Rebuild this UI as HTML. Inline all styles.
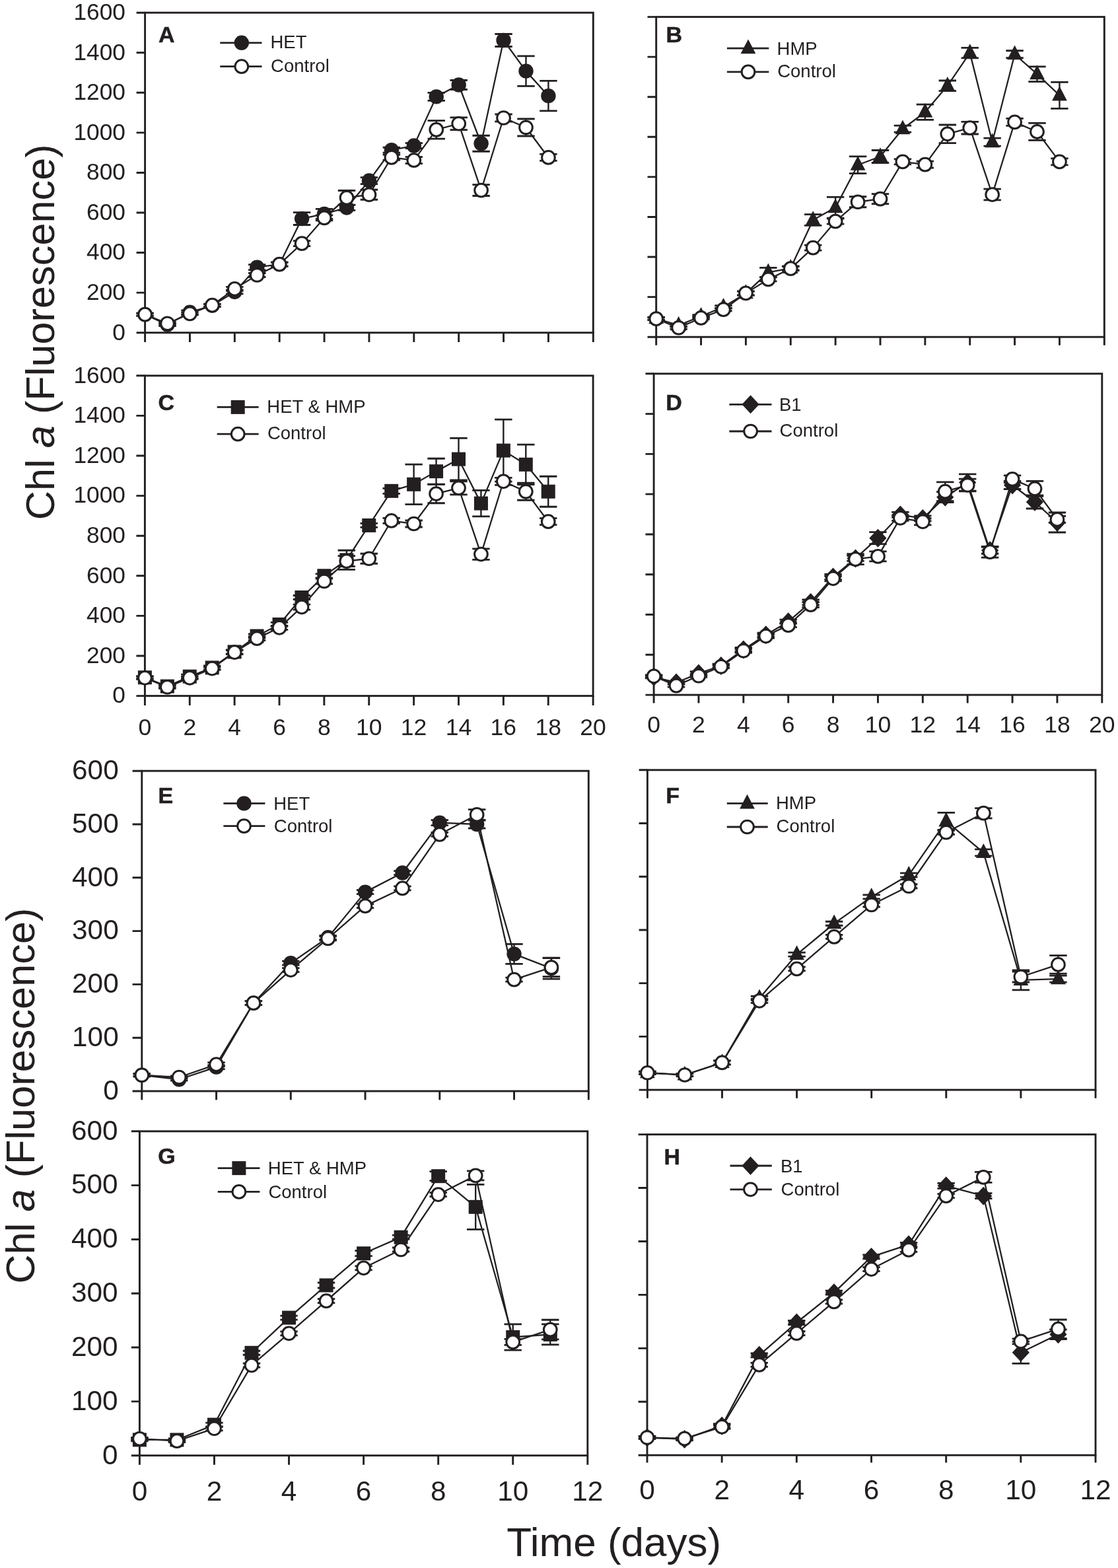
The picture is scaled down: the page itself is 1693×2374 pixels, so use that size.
<!DOCTYPE html>
<html><head><meta charset="utf-8"><title>Chl a fluorescence time course</title>
<style>html,body{margin:0;padding:0;background:#fff;}svg{display:block;}text{font-family:"Liberation Sans",Arial,sans-serif;fill:#231f20;}</style>
</head><body>
<svg width="1693" height="2374" viewBox="0 0 1693 2374">
<rect width="1693" height="2374" fill="#fff"/>
<g>
<rect x="219.6" y="19.2" width="678.7" height="484.5" fill="none" stroke="#231f20" stroke-width="2.9"/>
<path d="M206.6 503.7H219.6M206.6 443.14H219.6M206.6 382.57H219.6M206.6 322.01H219.6M206.6 261.45H219.6M206.6 200.89H219.6M206.6 140.32H219.6M206.6 79.76H219.6M206.6 19.2H219.6M219.6 503.7V518M287.47 503.7V518M355.34 503.7V518M423.21 503.7V518M491.08 503.7V518M558.95 503.7V518M626.82 503.7V518M694.69 503.7V518M762.56 503.7V518M830.43 503.7V518M898.3 503.7V518" stroke="#231f20" stroke-width="2.9" fill="none"/>
<text transform="translate(190 514.5) scale(1 1)" font-size="35.3" text-anchor="end">0</text>
<text transform="translate(190 453.94) scale(1 1)" font-size="35.3" text-anchor="end">200</text>
<text transform="translate(190 393.38) scale(1 1)" font-size="35.3" text-anchor="end">400</text>
<text transform="translate(190 332.81) scale(1 1)" font-size="35.3" text-anchor="end">600</text>
<text transform="translate(190 272.25) scale(1 1)" font-size="35.3" text-anchor="end">800</text>
<text transform="translate(190 211.69) scale(1 1)" font-size="35.3" text-anchor="end">1000</text>
<text transform="translate(190 151.12) scale(1 1)" font-size="35.3" text-anchor="end">1200</text>
<text transform="translate(190 90.56) scale(1 1)" font-size="35.3" text-anchor="end">1400</text>
<text transform="translate(190 30) scale(1 1)" font-size="35.3" text-anchor="end">1600</text>
<polyline points="219.6,476.14 253.53,491.59 287.47,472.81 321.4,462.52 355.34,441.93 389.27,404.68 423.21,400.14 457.14,331.1 491.08,323.83 525.01,314.44 558.95,273.56 592.88,227.23 626.82,220.57 660.75,146.38 694.69,128.52 728.62,217.24 762.56,60.99 796.49,107.62 830.43,145.17" fill="none" stroke="#231f20" stroke-width="2.3" stroke-linejoin="round"/>
<path d="M219.6 474.14V478.14M253.53 489.59V493.59M287.47 469.81V475.81M321.4 460.52V464.52M355.34 438.93V444.93M389.27 400.68V408.68M423.21 397.14V403.14M457.14 321.7V340.5M491.08 316.33V331.33M525.01 310.44V318.44M558.95 268.56V278.56M592.88 223.23V231.23M626.82 216.57V224.57M660.75 140.38V152.38M694.69 121.52V135.52M728.62 205.24V229.24M762.56 51.49V70.49M796.49 84.92V130.32M830.43 122.47V167.87" stroke="#231f20" stroke-width="2.4" fill="none"/>
<path d="M206.4 474.14H232.8M206.4 478.14H232.8M240.34 489.59H266.74M240.34 493.59H266.74M274.27 469.81H300.67M274.27 475.81H300.67M308.2 460.52H334.6M308.2 464.52H334.6M342.14 438.93H368.54M342.14 444.93H368.54M376.07 400.68H402.47M376.07 408.68H402.47M410.01 397.14H436.41M410.01 403.14H436.41M443.94 321.7H470.34M443.94 340.5H470.34M477.88 316.33H504.28M477.88 331.33H504.28M511.81 310.44H538.22M511.81 318.44H538.22M545.75 268.56H572.15M545.75 278.56H572.15M579.68 223.23H606.09M579.68 231.23H606.09M613.62 216.57H640.02M613.62 224.57H640.02M647.55 140.38H673.95M647.55 152.38H673.95M681.49 121.52H707.89M681.49 135.52H707.89M715.42 205.24H741.82M715.42 229.24H741.82M749.36 51.49H775.76M749.36 70.49H775.76M783.29 84.92H809.69M783.29 130.32H809.69M817.23 122.47H843.63M817.23 167.87H843.63" stroke="#231f20" stroke-width="2.8" fill="none"/>
<circle cx="219.6" cy="476.14" r="11.2" fill="#231f20"/>
<circle cx="253.53" cy="491.59" r="11.2" fill="#231f20"/>
<circle cx="287.47" cy="472.81" r="11.2" fill="#231f20"/>
<circle cx="321.4" cy="462.52" r="11.2" fill="#231f20"/>
<circle cx="355.34" cy="441.93" r="11.2" fill="#231f20"/>
<circle cx="389.27" cy="404.68" r="11.2" fill="#231f20"/>
<circle cx="423.21" cy="400.14" r="11.2" fill="#231f20"/>
<circle cx="457.14" cy="331.1" r="11.2" fill="#231f20"/>
<circle cx="491.08" cy="323.83" r="11.2" fill="#231f20"/>
<circle cx="525.01" cy="314.44" r="11.2" fill="#231f20"/>
<circle cx="558.95" cy="273.56" r="11.2" fill="#231f20"/>
<circle cx="592.88" cy="227.23" r="11.2" fill="#231f20"/>
<circle cx="626.82" cy="220.57" r="11.2" fill="#231f20"/>
<circle cx="660.75" cy="146.38" r="11.2" fill="#231f20"/>
<circle cx="694.69" cy="128.52" r="11.2" fill="#231f20"/>
<circle cx="728.62" cy="217.24" r="11.2" fill="#231f20"/>
<circle cx="762.56" cy="60.99" r="11.2" fill="#231f20"/>
<circle cx="796.49" cy="107.62" r="11.2" fill="#231f20"/>
<circle cx="830.43" cy="145.17" r="11.2" fill="#231f20"/>
<polyline points="219.6,476.14 253.53,489.77 287.47,474.93 321.4,462.21 355.34,437.38 389.27,416.49 423.21,400.14 457.14,368.65 491.08,329.89 525.01,299.3 558.95,294.76 592.88,238.44 626.82,242.68 660.75,196.35 694.69,187.26 728.62,288.1 762.56,178.48 796.49,193.01 830.43,238.44" fill="none" stroke="#231f20" stroke-width="2.3" stroke-linejoin="round"/>
<path d="M219.6 474.14V478.14M253.53 487.77V491.77M287.47 472.93V476.93M321.4 460.21V464.21M355.34 434.38V440.38M389.27 413.49V419.49M423.21 397.14V403.14M457.14 364.65V372.65M491.08 325.89V333.89M525.01 288.5V310.1M558.95 287.26V302.26M592.88 234.44V242.44M626.82 237.68V247.68M660.75 182.55V210.15M694.69 177.96V196.56M728.62 279.7V296.5M762.56 172.98V183.98M796.49 180.01V206.01M830.43 233.44V243.44" stroke="#231f20" stroke-width="2.4" fill="none"/>
<path d="M206.4 474.14H232.8M206.4 478.14H232.8M240.34 487.77H266.74M240.34 491.77H266.74M274.27 472.93H300.67M274.27 476.93H300.67M308.2 460.21H334.6M308.2 464.21H334.6M342.14 434.38H368.54M342.14 440.38H368.54M376.07 413.49H402.47M376.07 419.49H402.47M410.01 397.14H436.41M410.01 403.14H436.41M443.94 364.65H470.34M443.94 372.65H470.34M477.88 325.89H504.28M477.88 333.89H504.28M511.81 288.5H538.22M511.81 310.1H538.22M545.75 287.26H572.15M545.75 302.26H572.15M579.68 234.44H606.09M579.68 242.44H606.09M613.62 237.68H640.02M613.62 247.68H640.02M647.55 182.55H673.95M647.55 210.15H673.95M681.49 177.96H707.89M681.49 196.56H707.89M715.42 279.7H741.82M715.42 296.5H741.82M749.36 172.98H775.76M749.36 183.98H775.76M783.29 180.01H809.69M783.29 206.01H809.69M817.23 233.44H843.63M817.23 243.44H843.63" stroke="#231f20" stroke-width="2.8" fill="none"/>
<circle cx="219.6" cy="476.14" r="9.85" fill="#fff" stroke="#231f20" stroke-width="3.0"/>
<circle cx="253.53" cy="489.77" r="9.85" fill="#fff" stroke="#231f20" stroke-width="3.0"/>
<circle cx="287.47" cy="474.93" r="9.85" fill="#fff" stroke="#231f20" stroke-width="3.0"/>
<circle cx="321.4" cy="462.21" r="9.85" fill="#fff" stroke="#231f20" stroke-width="3.0"/>
<circle cx="355.34" cy="437.38" r="9.85" fill="#fff" stroke="#231f20" stroke-width="3.0"/>
<circle cx="389.27" cy="416.49" r="9.85" fill="#fff" stroke="#231f20" stroke-width="3.0"/>
<circle cx="423.21" cy="400.14" r="9.85" fill="#fff" stroke="#231f20" stroke-width="3.0"/>
<circle cx="457.14" cy="368.65" r="9.85" fill="#fff" stroke="#231f20" stroke-width="3.0"/>
<circle cx="491.08" cy="329.89" r="9.85" fill="#fff" stroke="#231f20" stroke-width="3.0"/>
<circle cx="525.01" cy="299.3" r="9.85" fill="#fff" stroke="#231f20" stroke-width="3.0"/>
<circle cx="558.95" cy="294.76" r="9.85" fill="#fff" stroke="#231f20" stroke-width="3.0"/>
<circle cx="592.88" cy="238.44" r="9.85" fill="#fff" stroke="#231f20" stroke-width="3.0"/>
<circle cx="626.82" cy="242.68" r="9.85" fill="#fff" stroke="#231f20" stroke-width="3.0"/>
<circle cx="660.75" cy="196.35" r="9.85" fill="#fff" stroke="#231f20" stroke-width="3.0"/>
<circle cx="694.69" cy="187.26" r="9.85" fill="#fff" stroke="#231f20" stroke-width="3.0"/>
<circle cx="728.62" cy="288.1" r="9.85" fill="#fff" stroke="#231f20" stroke-width="3.0"/>
<circle cx="762.56" cy="178.48" r="9.85" fill="#fff" stroke="#231f20" stroke-width="3.0"/>
<circle cx="796.49" cy="193.01" r="9.85" fill="#fff" stroke="#231f20" stroke-width="3.0"/>
<circle cx="830.43" cy="238.44" r="9.85" fill="#fff" stroke="#231f20" stroke-width="3.0"/>
<path d="M333.3 64.8H396.5M333.3 100.7H396.5" stroke="#231f20" stroke-width="2.8" fill="none"/>
<circle cx="365.8" cy="64.8" r="11.2" fill="#231f20"/>
<circle cx="365.8" cy="100.7" r="9.85" fill="#fff" stroke="#231f20" stroke-width="3.0"/>
<text x="409.5" y="73.3" font-size="27.5">HET</text>
<text x="410.1" y="108.7" font-size="27.5">Control</text>
<text x="239.9" y="63.9" font-size="34" font-weight="bold" stroke="#231f20" stroke-width="0.5">A</text>
</g>
<g>
<rect x="993.7" y="25.6" width="678.6" height="484.6" fill="none" stroke="#231f20" stroke-width="2.9"/>
<path d="M980.5 510.2H993.7M980.5 449.62H993.7M980.5 389.05H993.7M980.5 328.48H993.7M980.5 267.9H993.7M980.5 207.32H993.7M980.5 146.75H993.7M980.5 86.17H993.7M980.5 25.6H993.7M993.7 510.2V522.7M1061.56 510.2V522.7M1129.42 510.2V522.7M1197.28 510.2V522.7M1265.14 510.2V522.7M1333 510.2V522.7M1400.86 510.2V522.7M1468.72 510.2V522.7M1536.58 510.2V522.7M1604.44 510.2V522.7M1672.3 510.2V522.7" stroke="#231f20" stroke-width="2.9" fill="none"/>
<polyline points="993.7,482.03 1027.63,492.63 1061.56,478.7 1095.49,464.77 1129.42,444.17 1163.35,412.37 1197.28,406.01 1231.21,333.02 1265.14,314.24 1299.07,249.73 1333,237.01 1366.93,195.21 1400.86,169.77 1434.79,129.79 1468.72,80.12 1502.65,215.2 1536.58,82.24 1570.51,112.22 1604.44,144.33" fill="none" stroke="#231f20" stroke-width="2.3" stroke-linejoin="round"/>
<path d="M993.7 480.03V484.03M1027.63 490.63V494.63M1061.56 476.7V480.7M1095.49 462.77V466.77M1129.42 441.17V447.17M1163.35 405.37V419.37M1197.28 403.01V409.01M1231.21 324.62V341.42M1265.14 298.44V330.04M1299.07 236.83V262.63M1333 227.51V246.51M1366.93 190.21V200.21M1400.86 158.17V181.37M1434.79 121.99V137.59M1468.72 72.32V87.92M1502.65 209.2V221.2M1536.58 76.74V87.74M1570.51 100.82V123.62M1604.44 124.33V164.33" stroke="#231f20" stroke-width="2.4" fill="none"/>
<path d="M980.5 480.03H1006.9M980.5 484.03H1006.9M1014.43 490.63H1040.83M1014.43 494.63H1040.83M1048.36 476.7H1074.76M1048.36 480.7H1074.76M1082.29 462.77H1108.69M1082.29 466.77H1108.69M1116.22 441.17H1142.62M1116.22 447.17H1142.62M1150.15 405.37H1176.55M1150.15 419.37H1176.55M1184.08 403.01H1210.48M1184.08 409.01H1210.48M1218.01 324.62H1244.41M1218.01 341.42H1244.41M1251.94 298.44H1278.34M1251.94 330.04H1278.34M1285.87 236.83H1312.27M1285.87 262.63H1312.27M1319.8 227.51H1346.2M1319.8 246.51H1346.2M1353.73 190.21H1380.13M1353.73 200.21H1380.13M1387.66 158.17H1414.06M1387.66 181.37H1414.06M1421.59 121.99H1447.99M1421.59 137.59H1447.99M1455.52 72.32H1481.92M1455.52 87.92H1481.92M1489.45 209.2H1515.85M1489.45 221.2H1515.85M1523.38 76.74H1549.78M1523.38 87.74H1549.78M1557.31 100.82H1583.71M1557.31 123.62H1583.71M1591.24 124.33H1617.64M1591.24 164.33H1617.64" stroke="#231f20" stroke-width="2.8" fill="none"/>
<polygon points="993.7,468.23 1005.1,490.13 982.3,490.13" fill="#231f20"/>
<polygon points="1027.63,478.83 1039.03,500.73 1016.23,500.73" fill="#231f20"/>
<polygon points="1061.56,464.9 1072.96,486.8 1050.16,486.8" fill="#231f20"/>
<polygon points="1095.49,450.97 1106.89,472.87 1084.09,472.87" fill="#231f20"/>
<polygon points="1129.42,430.37 1140.82,452.27 1118.02,452.27" fill="#231f20"/>
<polygon points="1163.35,398.57 1174.75,420.47 1151.95,420.47" fill="#231f20"/>
<polygon points="1197.28,392.21 1208.68,414.11 1185.88,414.11" fill="#231f20"/>
<polygon points="1231.21,319.22 1242.61,341.12 1219.81,341.12" fill="#231f20"/>
<polygon points="1265.14,300.44 1276.54,322.34 1253.74,322.34" fill="#231f20"/>
<polygon points="1299.07,235.93 1310.47,257.83 1287.67,257.83" fill="#231f20"/>
<polygon points="1333,223.21 1344.4,245.11 1321.6,245.11" fill="#231f20"/>
<polygon points="1366.93,181.41 1378.33,203.31 1355.53,203.31" fill="#231f20"/>
<polygon points="1400.86,155.97 1412.26,177.87 1389.46,177.87" fill="#231f20"/>
<polygon points="1434.79,115.99 1446.19,137.89 1423.39,137.89" fill="#231f20"/>
<polygon points="1468.72,66.32 1480.12,88.22 1457.32,88.22" fill="#231f20"/>
<polygon points="1502.65,201.4 1514.05,223.3 1491.25,223.3" fill="#231f20"/>
<polygon points="1536.58,68.44 1547.98,90.34 1525.18,90.34" fill="#231f20"/>
<polygon points="1570.51,98.42 1581.91,120.32 1559.11,120.32" fill="#231f20"/>
<polygon points="1604.44,130.53 1615.84,152.43 1593.04,152.43" fill="#231f20"/>
<polyline points="993.7,482.64 1027.63,496.27 1061.56,481.43 1095.49,468.71 1129.42,443.87 1163.35,422.97 1197.28,406.62 1231.21,375.12 1265.14,335.14 1299.07,305.76 1333,301.22 1366.93,244.88 1400.86,249.12 1434.79,202.78 1468.72,193.7 1502.65,294.55 1536.58,184.91 1570.51,199.45 1604.44,244.88" fill="none" stroke="#231f20" stroke-width="2.3" stroke-linejoin="round"/>
<path d="M993.7 480.64V484.64M1027.63 494.27V498.27M1061.56 479.43V483.43M1095.49 466.71V470.71M1129.42 440.87V446.87M1163.35 419.97V425.97M1197.28 403.62V409.62M1231.21 371.12V379.12M1265.14 331.14V339.14M1299.07 297.76V313.76M1333 293.72V308.72M1366.93 240.88V248.88M1400.86 244.12V254.12M1434.79 188.98V216.58M1468.72 184.4V203M1502.65 286.15V302.95M1536.58 179.41V190.41M1570.51 186.45V212.45M1604.44 239.88V249.88" stroke="#231f20" stroke-width="2.4" fill="none"/>
<path d="M980.5 480.64H1006.9M980.5 484.64H1006.9M1014.43 494.27H1040.83M1014.43 498.27H1040.83M1048.36 479.43H1074.76M1048.36 483.43H1074.76M1082.29 466.71H1108.69M1082.29 470.71H1108.69M1116.22 440.87H1142.62M1116.22 446.87H1142.62M1150.15 419.97H1176.55M1150.15 425.97H1176.55M1184.08 403.62H1210.48M1184.08 409.62H1210.48M1218.01 371.12H1244.41M1218.01 379.12H1244.41M1251.94 331.14H1278.34M1251.94 339.14H1278.34M1285.87 297.76H1312.27M1285.87 313.76H1312.27M1319.8 293.72H1346.2M1319.8 308.72H1346.2M1353.73 240.88H1380.13M1353.73 248.88H1380.13M1387.66 244.12H1414.06M1387.66 254.12H1414.06M1421.59 188.98H1447.99M1421.59 216.58H1447.99M1455.52 184.4H1481.92M1455.52 203H1481.92M1489.45 286.15H1515.85M1489.45 302.95H1515.85M1523.38 179.41H1549.78M1523.38 190.41H1549.78M1557.31 186.45H1583.71M1557.31 212.45H1583.71M1591.24 239.88H1617.64M1591.24 249.88H1617.64" stroke="#231f20" stroke-width="2.8" fill="none"/>
<circle cx="993.7" cy="482.64" r="9.85" fill="#fff" stroke="#231f20" stroke-width="3.0"/>
<circle cx="1027.63" cy="496.27" r="9.85" fill="#fff" stroke="#231f20" stroke-width="3.0"/>
<circle cx="1061.56" cy="481.43" r="9.85" fill="#fff" stroke="#231f20" stroke-width="3.0"/>
<circle cx="1095.49" cy="468.71" r="9.85" fill="#fff" stroke="#231f20" stroke-width="3.0"/>
<circle cx="1129.42" cy="443.87" r="9.85" fill="#fff" stroke="#231f20" stroke-width="3.0"/>
<circle cx="1163.35" cy="422.97" r="9.85" fill="#fff" stroke="#231f20" stroke-width="3.0"/>
<circle cx="1197.28" cy="406.62" r="9.85" fill="#fff" stroke="#231f20" stroke-width="3.0"/>
<circle cx="1231.21" cy="375.12" r="9.85" fill="#fff" stroke="#231f20" stroke-width="3.0"/>
<circle cx="1265.14" cy="335.14" r="9.85" fill="#fff" stroke="#231f20" stroke-width="3.0"/>
<circle cx="1299.07" cy="305.76" r="9.85" fill="#fff" stroke="#231f20" stroke-width="3.0"/>
<circle cx="1333" cy="301.22" r="9.85" fill="#fff" stroke="#231f20" stroke-width="3.0"/>
<circle cx="1366.93" cy="244.88" r="9.85" fill="#fff" stroke="#231f20" stroke-width="3.0"/>
<circle cx="1400.86" cy="249.12" r="9.85" fill="#fff" stroke="#231f20" stroke-width="3.0"/>
<circle cx="1434.79" cy="202.78" r="9.85" fill="#fff" stroke="#231f20" stroke-width="3.0"/>
<circle cx="1468.72" cy="193.7" r="9.85" fill="#fff" stroke="#231f20" stroke-width="3.0"/>
<circle cx="1502.65" cy="294.55" r="9.85" fill="#fff" stroke="#231f20" stroke-width="3.0"/>
<circle cx="1536.58" cy="184.91" r="9.85" fill="#fff" stroke="#231f20" stroke-width="3.0"/>
<circle cx="1570.51" cy="199.45" r="9.85" fill="#fff" stroke="#231f20" stroke-width="3.0"/>
<circle cx="1604.44" cy="244.88" r="9.85" fill="#fff" stroke="#231f20" stroke-width="3.0"/>
<path d="M1100.9 73.2H1164.3M1100.9 108.9H1164.3" stroke="#231f20" stroke-width="2.8" fill="none"/>
<polygon points="1133,59.4 1144.4,81.3 1121.6,81.3" fill="#231f20"/>
<circle cx="1133" cy="108.9" r="9.85" fill="#fff" stroke="#231f20" stroke-width="3.0"/>
<text x="1176.6" y="82.7" font-size="27.5">HMP</text>
<text x="1177.2" y="117.1" font-size="27.5">Control</text>
<text x="1008.5" y="63.6" font-size="34" font-weight="bold" stroke="#231f20" stroke-width="0.5">B</text>
</g>
<g>
<rect x="219.4" y="568.8" width="678.7" height="484.8" fill="none" stroke="#231f20" stroke-width="2.9"/>
<path d="M206.4 1053.6H219.4M206.4 993H219.4M206.4 932.4H219.4M206.4 871.8H219.4M206.4 811.2H219.4M206.4 750.6H219.4M206.4 690H219.4M206.4 629.4H219.4M206.4 568.8H219.4M219.4 1053.6V1068M287.27 1053.6V1068M355.14 1053.6V1068M423.01 1053.6V1068M490.88 1053.6V1068M558.75 1053.6V1068M626.62 1053.6V1068M694.49 1053.6V1068M762.36 1053.6V1068M830.23 1053.6V1068M898.1 1053.6V1068" stroke="#231f20" stroke-width="2.9" fill="none"/>
<text transform="translate(190 1064.4) scale(1 1)" font-size="35.3" text-anchor="end">0</text>
<text transform="translate(190 1003.8) scale(1 1)" font-size="35.3" text-anchor="end">200</text>
<text transform="translate(190 943.2) scale(1 1)" font-size="35.3" text-anchor="end">400</text>
<text transform="translate(190 882.6) scale(1 1)" font-size="35.3" text-anchor="end">600</text>
<text transform="translate(190 822) scale(1 1)" font-size="35.3" text-anchor="end">800</text>
<text transform="translate(190 761.4) scale(1 1)" font-size="35.3" text-anchor="end">1000</text>
<text transform="translate(190 700.8) scale(1 1)" font-size="35.3" text-anchor="end">1200</text>
<text transform="translate(190 640.2) scale(1 1)" font-size="35.3" text-anchor="end">1400</text>
<text transform="translate(190 579.6) scale(1 1)" font-size="35.3" text-anchor="end">1600</text>
<text transform="translate(219.4 1112.5) scale(1 1)" font-size="35.5" text-anchor="middle">0</text>
<text transform="translate(287.27 1112.5) scale(1 1)" font-size="35.5" text-anchor="middle">2</text>
<text transform="translate(355.14 1112.5) scale(1 1)" font-size="35.5" text-anchor="middle">4</text>
<text transform="translate(423.01 1112.5) scale(1 1)" font-size="35.5" text-anchor="middle">6</text>
<text transform="translate(490.88 1112.5) scale(1 1)" font-size="35.5" text-anchor="middle">8</text>
<text transform="translate(558.75 1112.5) scale(1 1)" font-size="35.5" text-anchor="middle">10</text>
<text transform="translate(626.62 1112.5) scale(1 1)" font-size="35.5" text-anchor="middle">12</text>
<text transform="translate(694.49 1112.5) scale(1 1)" font-size="35.5" text-anchor="middle">14</text>
<text transform="translate(762.36 1112.5) scale(1 1)" font-size="35.5" text-anchor="middle">16</text>
<text transform="translate(830.23 1112.5) scale(1 1)" font-size="35.5" text-anchor="middle">18</text>
<text transform="translate(898.1 1112.5) scale(1 1)" font-size="35.5" text-anchor="middle">20</text>
<polyline points="219.4,1025.72 253.34,1039.06 287.27,1024.21 321.21,1010.88 355.14,986.94 389.08,963 423.01,945.43 456.95,904.52 490.88,871.8 524.82,847.86 558.75,795.44 592.69,743.33 626.62,733.33 660.56,713.63 694.49,695.15 728.43,762.11 762.36,682.12 796.29,703.33 830.23,744.24" fill="none" stroke="#231f20" stroke-width="2.3" stroke-linejoin="round"/>
<path d="M219.4 1023.72V1027.72M253.34 1037.06V1041.06M287.27 1021.21V1027.21M321.21 1007.88V1013.88M355.14 983.94V989.94M389.08 960V966M423.01 942.43V948.43M456.95 901.52V907.52M490.88 868.8V874.8M524.82 833.26V862.46M558.75 792.44V798.44M592.69 739.33V747.33M626.62 703.13V763.53M660.56 694.23V733.03M694.49 663.45V726.85M728.43 742.41V781.81M762.36 635.12V729.12M796.29 673.03V733.63M830.23 721.24V767.24" stroke="#231f20" stroke-width="2.4" fill="none"/>
<path d="M206.2 1023.72H232.6M206.2 1027.72H232.6M240.14 1037.06H266.54M240.14 1041.06H266.54M274.07 1021.21H300.47M274.07 1027.21H300.47M308.01 1007.88H334.41M308.01 1013.88H334.41M341.94 983.94H368.34M341.94 989.94H368.34M375.88 960H402.28M375.88 966H402.28M409.81 942.43H436.21M409.81 948.43H436.21M443.75 901.52H470.15M443.75 907.52H470.15M477.68 868.8H504.08M477.68 874.8H504.08M511.62 833.26H538.02M511.62 862.46H538.02M545.55 792.44H571.95M545.55 798.44H571.95M579.49 739.33H605.89M579.49 747.33H605.89M613.42 703.13H639.82M613.42 763.53H639.82M647.36 694.23H673.76M647.36 733.03H673.76M681.29 663.45H707.69M681.29 726.85H707.69M715.23 742.41H741.63M715.23 781.81H741.63M749.16 635.12H775.56M749.16 729.12H775.56M783.09 673.03H809.5M783.09 733.63H809.5M817.03 721.24H843.43M817.03 767.24H843.43" stroke="#231f20" stroke-width="2.8" fill="none"/>
<rect x="208.9" y="1015.22" width="21" height="21" fill="#231f20"/>
<rect x="242.84" y="1028.56" width="21" height="21" fill="#231f20"/>
<rect x="276.77" y="1013.71" width="21" height="21" fill="#231f20"/>
<rect x="310.71" y="1000.38" width="21" height="21" fill="#231f20"/>
<rect x="344.64" y="976.44" width="21" height="21" fill="#231f20"/>
<rect x="378.58" y="952.5" width="21" height="21" fill="#231f20"/>
<rect x="412.51" y="934.93" width="21" height="21" fill="#231f20"/>
<rect x="446.45" y="894.02" width="21" height="21" fill="#231f20"/>
<rect x="480.38" y="861.3" width="21" height="21" fill="#231f20"/>
<rect x="514.32" y="837.36" width="21" height="21" fill="#231f20"/>
<rect x="548.25" y="784.94" width="21" height="21" fill="#231f20"/>
<rect x="582.19" y="732.83" width="21" height="21" fill="#231f20"/>
<rect x="616.12" y="722.83" width="21" height="21" fill="#231f20"/>
<rect x="650.06" y="703.13" width="21" height="21" fill="#231f20"/>
<rect x="683.99" y="684.65" width="21" height="21" fill="#231f20"/>
<rect x="717.93" y="751.61" width="21" height="21" fill="#231f20"/>
<rect x="751.86" y="671.62" width="21" height="21" fill="#231f20"/>
<rect x="785.79" y="692.83" width="21" height="21" fill="#231f20"/>
<rect x="819.73" y="733.74" width="21" height="21" fill="#231f20"/>
<polyline points="219.4,1026.33 253.34,1040.27 287.27,1026.33 321.21,1012.09 355.14,987.55 389.08,966.64 423.01,950.28 456.95,919.07 490.88,879.98 524.82,849.68 558.75,845.74 592.69,788.47 626.62,793.02 660.56,747.57 694.49,738.78 728.43,839.08 762.36,728.78 796.29,744.24 830.23,789.69" fill="none" stroke="#231f20" stroke-width="2.3" stroke-linejoin="round"/>
<path d="M219.4 1024.33V1028.33M253.34 1038.27V1042.27M287.27 1024.33V1028.33M321.21 1010.09V1014.09M355.14 984.55V990.55M389.08 963.64V969.64M423.01 947.28V953.28M456.95 915.07V923.07M490.88 875.98V883.98M524.82 841.68V857.68M558.75 838.24V853.24M592.69 784.47V792.47M626.62 788.02V798.02M660.56 733.37V761.77M694.49 728.78V748.78M728.43 830.78V847.38M762.36 723.28V734.28M796.29 731.24V757.24M830.23 784.69V794.69" stroke="#231f20" stroke-width="2.4" fill="none"/>
<path d="M206.2 1024.33H232.6M206.2 1028.33H232.6M240.14 1038.27H266.54M240.14 1042.27H266.54M274.07 1024.33H300.47M274.07 1028.33H300.47M308.01 1010.09H334.41M308.01 1014.09H334.41M341.94 984.55H368.34M341.94 990.55H368.34M375.88 963.64H402.28M375.88 969.64H402.28M409.81 947.28H436.21M409.81 953.28H436.21M443.75 915.07H470.15M443.75 923.07H470.15M477.68 875.98H504.08M477.68 883.98H504.08M511.62 841.68H538.02M511.62 857.68H538.02M545.55 838.24H571.95M545.55 853.24H571.95M579.49 784.47H605.89M579.49 792.47H605.89M613.42 788.02H639.82M613.42 798.02H639.82M647.36 733.37H673.76M647.36 761.77H673.76M681.29 728.78H707.69M681.29 748.78H707.69M715.23 830.78H741.63M715.23 847.38H741.63M749.16 723.28H775.56M749.16 734.28H775.56M783.09 731.24H809.5M783.09 757.24H809.5M817.03 784.69H843.43M817.03 794.69H843.43" stroke="#231f20" stroke-width="2.8" fill="none"/>
<circle cx="219.4" cy="1026.33" r="9.85" fill="#fff" stroke="#231f20" stroke-width="3.0"/>
<circle cx="253.34" cy="1040.27" r="9.85" fill="#fff" stroke="#231f20" stroke-width="3.0"/>
<circle cx="287.27" cy="1026.33" r="9.85" fill="#fff" stroke="#231f20" stroke-width="3.0"/>
<circle cx="321.21" cy="1012.09" r="9.85" fill="#fff" stroke="#231f20" stroke-width="3.0"/>
<circle cx="355.14" cy="987.55" r="9.85" fill="#fff" stroke="#231f20" stroke-width="3.0"/>
<circle cx="389.08" cy="966.64" r="9.85" fill="#fff" stroke="#231f20" stroke-width="3.0"/>
<circle cx="423.01" cy="950.28" r="9.85" fill="#fff" stroke="#231f20" stroke-width="3.0"/>
<circle cx="456.95" cy="919.07" r="9.85" fill="#fff" stroke="#231f20" stroke-width="3.0"/>
<circle cx="490.88" cy="879.98" r="9.85" fill="#fff" stroke="#231f20" stroke-width="3.0"/>
<circle cx="524.82" cy="849.68" r="9.85" fill="#fff" stroke="#231f20" stroke-width="3.0"/>
<circle cx="558.75" cy="845.74" r="9.85" fill="#fff" stroke="#231f20" stroke-width="3.0"/>
<circle cx="592.69" cy="788.47" r="9.85" fill="#fff" stroke="#231f20" stroke-width="3.0"/>
<circle cx="626.62" cy="793.02" r="9.85" fill="#fff" stroke="#231f20" stroke-width="3.0"/>
<circle cx="660.56" cy="747.57" r="9.85" fill="#fff" stroke="#231f20" stroke-width="3.0"/>
<circle cx="694.49" cy="738.78" r="9.85" fill="#fff" stroke="#231f20" stroke-width="3.0"/>
<circle cx="728.43" cy="839.08" r="9.85" fill="#fff" stroke="#231f20" stroke-width="3.0"/>
<circle cx="762.36" cy="728.78" r="9.85" fill="#fff" stroke="#231f20" stroke-width="3.0"/>
<circle cx="796.29" cy="744.24" r="9.85" fill="#fff" stroke="#231f20" stroke-width="3.0"/>
<circle cx="830.23" cy="789.69" r="9.85" fill="#fff" stroke="#231f20" stroke-width="3.0"/>
<path d="M328.7 616.4H391.6M328.7 657.2H391.6" stroke="#231f20" stroke-width="2.8" fill="none"/>
<rect x="349.7" y="605.9" width="21" height="21" fill="#231f20"/>
<circle cx="360.2" cy="657.2" r="9.85" fill="#fff" stroke="#231f20" stroke-width="3.0"/>
<text x="404.3" y="625.3" font-size="27.5">HET &amp; HMP</text>
<text x="404.9" y="665.1" font-size="27.5">Control</text>
<text x="239.6" y="620.8" font-size="34" font-weight="bold" stroke="#231f20" stroke-width="0.5">C</text>
</g>
<g>
<rect x="990.1" y="565.8" width="678.7" height="486.3" fill="none" stroke="#231f20" stroke-width="2.9"/>
<path d="M977.5 1052.1H990.1M977.5 991.31H990.1M977.5 930.52H990.1M977.5 869.74H990.1M977.5 808.95H990.1M977.5 748.16H990.1M977.5 687.38H990.1M977.5 626.59H990.1M977.5 565.8H990.1M990.1 1052.1V1064.5M1057.97 1052.1V1064.5M1125.84 1052.1V1064.5M1193.71 1052.1V1064.5M1261.58 1052.1V1064.5M1329.45 1052.1V1064.5M1397.32 1052.1V1064.5M1465.19 1052.1V1064.5M1533.06 1052.1V1064.5M1600.93 1052.1V1064.5M1668.8 1052.1V1064.5" stroke="#231f20" stroke-width="2.9" fill="none"/>
<text transform="translate(990.1 1109) scale(1 1)" font-size="35.5" text-anchor="middle">0</text>
<text transform="translate(1057.97 1109) scale(1 1)" font-size="35.5" text-anchor="middle">2</text>
<text transform="translate(1125.84 1109) scale(1 1)" font-size="35.5" text-anchor="middle">4</text>
<text transform="translate(1193.71 1109) scale(1 1)" font-size="35.5" text-anchor="middle">6</text>
<text transform="translate(1261.58 1109) scale(1 1)" font-size="35.5" text-anchor="middle">8</text>
<text transform="translate(1329.45 1109) scale(1 1)" font-size="35.5" text-anchor="middle">10</text>
<text transform="translate(1397.32 1109) scale(1 1)" font-size="35.5" text-anchor="middle">12</text>
<text transform="translate(1465.19 1109) scale(1 1)" font-size="35.5" text-anchor="middle">14</text>
<text transform="translate(1533.06 1109) scale(1 1)" font-size="35.5" text-anchor="middle">16</text>
<text transform="translate(1600.93 1109) scale(1 1)" font-size="35.5" text-anchor="middle">18</text>
<text transform="translate(1668.8 1109) scale(1 1)" font-size="35.5" text-anchor="middle">20</text>
<polyline points="990.1,1024.75 1024.04,1033.56 1057.97,1019.58 1091.9,1008.03 1125.84,983.41 1159.78,961.22 1193.71,941.16 1227.64,911.98 1261.58,873.38 1295.51,845.42 1329.45,814.72 1363.38,779.47 1397.32,784.94 1431.25,752.72 1465.19,730.53 1499.12,833.26 1533.06,734.49 1566.99,760.02 1600.93,791.02" fill="none" stroke="#231f20" stroke-width="2.3" stroke-linejoin="round"/>
<path d="M990.1 1022.75V1026.75M1024.04 1031.56V1035.56M1057.97 1016.58V1022.58M1091.9 1005.03V1011.03M1125.84 980.41V986.41M1159.78 958.22V964.22M1193.71 938.16V944.16M1227.64 907.98V915.98M1261.58 869.38V877.38M1295.51 841.42V849.42M1329.45 805.72V823.72M1363.38 775.47V783.47M1397.32 780.94V788.94M1431.25 744.72V760.72M1465.19 717.83V743.23M1499.12 828.26V838.26M1533.06 728.49V740.49M1566.99 750.02V770.02M1600.93 776.02V806.02" stroke="#231f20" stroke-width="2.4" fill="none"/>
<path d="M976.9 1022.75H1003.3M976.9 1026.75H1003.3M1010.84 1031.56H1037.24M1010.84 1035.56H1037.24M1044.77 1016.58H1071.17M1044.77 1022.58H1071.17M1078.7 1005.03H1105.11M1078.7 1011.03H1105.11M1112.64 980.41H1139.04M1112.64 986.41H1139.04M1146.58 958.22H1172.98M1146.58 964.22H1172.98M1180.51 938.16H1206.91M1180.51 944.16H1206.91M1214.44 907.98H1240.85M1214.44 915.98H1240.85M1248.38 869.38H1274.78M1248.38 877.38H1274.78M1282.31 841.42H1308.71M1282.31 849.42H1308.71M1316.25 805.72H1342.65M1316.25 823.72H1342.65M1350.18 775.47H1376.59M1350.18 783.47H1376.59M1384.12 780.94H1410.52M1384.12 788.94H1410.52M1418.05 744.72H1444.45M1418.05 760.72H1444.45M1451.99 717.83H1478.39M1451.99 743.23H1478.39M1485.92 828.26H1512.33M1485.92 838.26H1512.33M1519.86 728.49H1546.26M1519.86 740.49H1546.26M1553.79 750.02H1580.19M1553.79 770.02H1580.19M1587.73 776.02H1614.13M1587.73 806.02H1614.13" stroke="#231f20" stroke-width="2.8" fill="none"/>
<polygon points="990.1,1010.75 1003.2,1024.75 990.1,1038.75 977,1024.75" fill="#231f20"/>
<polygon points="1024.04,1019.56 1037.13,1033.56 1024.04,1047.56 1010.94,1033.56" fill="#231f20"/>
<polygon points="1057.97,1005.58 1071.07,1019.58 1057.97,1033.58 1044.87,1019.58" fill="#231f20"/>
<polygon points="1091.9,994.03 1105,1008.03 1091.9,1022.03 1078.81,1008.03" fill="#231f20"/>
<polygon points="1125.84,969.41 1138.94,983.41 1125.84,997.41 1112.74,983.41" fill="#231f20"/>
<polygon points="1159.78,947.22 1172.88,961.22 1159.78,975.22 1146.68,961.22" fill="#231f20"/>
<polygon points="1193.71,927.16 1206.81,941.16 1193.71,955.16 1180.61,941.16" fill="#231f20"/>
<polygon points="1227.64,897.98 1240.74,911.98 1227.64,925.98 1214.55,911.98" fill="#231f20"/>
<polygon points="1261.58,859.38 1274.68,873.38 1261.58,887.38 1248.48,873.38" fill="#231f20"/>
<polygon points="1295.51,831.42 1308.61,845.42 1295.51,859.42 1282.41,845.42" fill="#231f20"/>
<polygon points="1329.45,800.72 1342.55,814.72 1329.45,828.72 1316.35,814.72" fill="#231f20"/>
<polygon points="1363.38,765.47 1376.48,779.47 1363.38,793.47 1350.29,779.47" fill="#231f20"/>
<polygon points="1397.32,770.94 1410.42,784.94 1397.32,798.94 1384.22,784.94" fill="#231f20"/>
<polygon points="1431.25,738.72 1444.35,752.72 1431.25,766.72 1418.15,752.72" fill="#231f20"/>
<polygon points="1465.19,716.53 1478.29,730.53 1465.19,744.53 1452.09,730.53" fill="#231f20"/>
<polygon points="1499.12,819.26 1512.22,833.26 1499.12,847.26 1486.03,833.26" fill="#231f20"/>
<polygon points="1533.06,720.49 1546.16,734.49 1533.06,748.49 1519.96,734.49" fill="#231f20"/>
<polygon points="1566.99,746.02 1580.09,760.02 1566.99,774.02 1553.89,760.02" fill="#231f20"/>
<polygon points="1600.93,777.02 1614.03,791.02 1600.93,805.02 1587.83,791.02" fill="#231f20"/>
<polyline points="990.1,1023.83 1024.04,1038.12 1057.97,1023.23 1091.9,1009.24 1125.84,985.23 1159.78,963.05 1193.71,946.63 1227.64,915.63 1261.58,875.82 1295.51,846.64 1329.45,842.38 1363.38,784.33 1397.32,789.8 1431.25,744.21 1465.19,734.49 1499.12,835.7 1533.06,725.37 1566.99,739.96 1600.93,786.46" fill="none" stroke="#231f20" stroke-width="2.3" stroke-linejoin="round"/>
<path d="M990.1 1021.83V1025.83M1024.04 1036.12V1040.12M1057.97 1021.23V1025.23M1091.9 1007.24V1011.24M1125.84 982.23V988.23M1159.78 960.05V966.05M1193.71 943.63V949.63M1227.64 911.63V919.63M1261.58 871.82V879.82M1295.51 838.64V854.64M1329.45 834.88V849.88M1363.38 780.33V788.33M1397.32 784.8V794.8M1431.25 729.81V758.61M1465.19 725.19V743.79M1499.12 827.3V844.1M1533.06 719.87V730.87M1566.99 728.46V751.46M1600.93 781.46V791.46" stroke="#231f20" stroke-width="2.4" fill="none"/>
<path d="M976.9 1021.83H1003.3M976.9 1025.83H1003.3M1010.84 1036.12H1037.24M1010.84 1040.12H1037.24M1044.77 1021.23H1071.17M1044.77 1025.23H1071.17M1078.7 1007.24H1105.11M1078.7 1011.24H1105.11M1112.64 982.23H1139.04M1112.64 988.23H1139.04M1146.58 960.05H1172.98M1146.58 966.05H1172.98M1180.51 943.63H1206.91M1180.51 949.63H1206.91M1214.44 911.63H1240.85M1214.44 919.63H1240.85M1248.38 871.82H1274.78M1248.38 879.82H1274.78M1282.31 838.64H1308.71M1282.31 854.64H1308.71M1316.25 834.88H1342.65M1316.25 849.88H1342.65M1350.18 780.33H1376.59M1350.18 788.33H1376.59M1384.12 784.8H1410.52M1384.12 794.8H1410.52M1418.05 729.81H1444.45M1418.05 758.61H1444.45M1451.99 725.19H1478.39M1451.99 743.79H1478.39M1485.92 827.3H1512.33M1485.92 844.1H1512.33M1519.86 719.87H1546.26M1519.86 730.87H1546.26M1553.79 728.46H1580.19M1553.79 751.46H1580.19M1587.73 781.46H1614.13M1587.73 791.46H1614.13" stroke="#231f20" stroke-width="2.8" fill="none"/>
<circle cx="990.1" cy="1023.83" r="9.85" fill="#fff" stroke="#231f20" stroke-width="3.0"/>
<circle cx="1024.04" cy="1038.12" r="9.85" fill="#fff" stroke="#231f20" stroke-width="3.0"/>
<circle cx="1057.97" cy="1023.23" r="9.85" fill="#fff" stroke="#231f20" stroke-width="3.0"/>
<circle cx="1091.9" cy="1009.24" r="9.85" fill="#fff" stroke="#231f20" stroke-width="3.0"/>
<circle cx="1125.84" cy="985.23" r="9.85" fill="#fff" stroke="#231f20" stroke-width="3.0"/>
<circle cx="1159.78" cy="963.05" r="9.85" fill="#fff" stroke="#231f20" stroke-width="3.0"/>
<circle cx="1193.71" cy="946.63" r="9.85" fill="#fff" stroke="#231f20" stroke-width="3.0"/>
<circle cx="1227.64" cy="915.63" r="9.85" fill="#fff" stroke="#231f20" stroke-width="3.0"/>
<circle cx="1261.58" cy="875.82" r="9.85" fill="#fff" stroke="#231f20" stroke-width="3.0"/>
<circle cx="1295.51" cy="846.64" r="9.85" fill="#fff" stroke="#231f20" stroke-width="3.0"/>
<circle cx="1329.45" cy="842.38" r="9.85" fill="#fff" stroke="#231f20" stroke-width="3.0"/>
<circle cx="1363.38" cy="784.33" r="9.85" fill="#fff" stroke="#231f20" stroke-width="3.0"/>
<circle cx="1397.32" cy="789.8" r="9.85" fill="#fff" stroke="#231f20" stroke-width="3.0"/>
<circle cx="1431.25" cy="744.21" r="9.85" fill="#fff" stroke="#231f20" stroke-width="3.0"/>
<circle cx="1465.19" cy="734.49" r="9.85" fill="#fff" stroke="#231f20" stroke-width="3.0"/>
<circle cx="1499.12" cy="835.7" r="9.85" fill="#fff" stroke="#231f20" stroke-width="3.0"/>
<circle cx="1533.06" cy="725.37" r="9.85" fill="#fff" stroke="#231f20" stroke-width="3.0"/>
<circle cx="1566.99" cy="739.96" r="9.85" fill="#fff" stroke="#231f20" stroke-width="3.0"/>
<circle cx="1600.93" cy="786.46" r="9.85" fill="#fff" stroke="#231f20" stroke-width="3.0"/>
<path d="M1104.4 612.3H1168.5M1104.4 653H1168.5" stroke="#231f20" stroke-width="2.8" fill="none"/>
<polygon points="1136.6,598.3 1149.7,612.3 1136.6,626.3 1123.5,612.3" fill="#231f20"/>
<circle cx="1136.6" cy="653" r="9.85" fill="#fff" stroke="#231f20" stroke-width="3.0"/>
<text x="1180" y="621.6" font-size="27.5">B1</text>
<text x="1180.6" y="661.3" font-size="27.5">Control</text>
<text x="1008.2" y="621" font-size="34" font-weight="bold" stroke="#231f20" stroke-width="0.5">D</text>
</g>
<g>
<rect x="214.8" y="1167.2" width="676.5" height="484.8" fill="none" stroke="#231f20" stroke-width="2.9"/>
<path d="M200.6 1652H214.8M200.6 1571.2H214.8M200.6 1490.4H214.8M200.6 1409.6H214.8M200.6 1328.8H214.8M200.6 1248H214.8M200.6 1167.2H214.8M214.8 1652V1665.3M327.55 1652V1665.3M440.3 1652V1665.3M553.05 1652V1665.3M665.8 1652V1665.3M778.55 1652V1665.3M891.3 1652V1665.3" stroke="#231f20" stroke-width="2.9" fill="none"/>
<text transform="translate(179.7 1664.8) scale(0.985 1)" font-size="43" text-anchor="end">0</text>
<text transform="translate(179.7 1584) scale(0.985 1)" font-size="43" text-anchor="end">100</text>
<text transform="translate(179.7 1503.2) scale(0.985 1)" font-size="43" text-anchor="end">200</text>
<text transform="translate(179.7 1422.4) scale(0.985 1)" font-size="43" text-anchor="end">300</text>
<text transform="translate(179.7 1341.6) scale(0.985 1)" font-size="43" text-anchor="end">400</text>
<text transform="translate(179.7 1260.8) scale(0.985 1)" font-size="43" text-anchor="end">500</text>
<text transform="translate(179.7 1180) scale(0.985 1)" font-size="43" text-anchor="end">600</text>
<polyline points="214.8,1627.76 271.18,1634.22 327.55,1615.64 383.93,1518.68 440.3,1458.08 496.68,1419.3 553.05,1350.62 609.42,1321.53 665.8,1245.58 722.17,1248 778.55,1444.34 834.92,1466.16" fill="none" stroke="#231f20" stroke-width="2.3" stroke-linejoin="round"/>
<path d="M214.8 1625.76V1629.76M271.18 1632.22V1636.22M327.55 1612.64V1618.64M383.93 1515.68V1521.68M440.3 1455.08V1461.08M496.68 1416.3V1422.3M553.05 1347.62V1353.62M609.42 1318.53V1324.53M665.8 1241.58V1249.58M722.17 1242V1254M778.55 1429.34V1459.34M834.92 1450.16V1482.16" stroke="#231f20" stroke-width="2.4" fill="none"/>
<path d="M201.6 1625.76H228M201.6 1629.76H228M257.98 1632.22H284.38M257.98 1636.22H284.38M314.35 1612.64H340.75M314.35 1618.64H340.75M370.73 1515.68H397.12M370.73 1521.68H397.12M427.1 1455.08H453.5M427.1 1461.08H453.5M483.48 1416.3H509.88M483.48 1422.3H509.88M539.85 1347.62H566.25M539.85 1353.62H566.25M596.22 1318.53H622.62M596.22 1324.53H622.62M652.6 1241.58H679M652.6 1249.58H679M708.97 1242H735.38M708.97 1254H735.38M765.35 1429.34H791.75M765.35 1459.34H791.75M821.72 1450.16H848.12M821.72 1482.16H848.12" stroke="#231f20" stroke-width="2.8" fill="none"/>
<circle cx="214.8" cy="1627.76" r="11.2" fill="#231f20"/>
<circle cx="271.18" cy="1634.22" r="11.2" fill="#231f20"/>
<circle cx="327.55" cy="1615.64" r="11.2" fill="#231f20"/>
<circle cx="383.93" cy="1518.68" r="11.2" fill="#231f20"/>
<circle cx="440.3" cy="1458.08" r="11.2" fill="#231f20"/>
<circle cx="496.68" cy="1419.3" r="11.2" fill="#231f20"/>
<circle cx="553.05" cy="1350.62" r="11.2" fill="#231f20"/>
<circle cx="609.42" cy="1321.53" r="11.2" fill="#231f20"/>
<circle cx="665.8" cy="1245.58" r="11.2" fill="#231f20"/>
<circle cx="722.17" cy="1248" r="11.2" fill="#231f20"/>
<circle cx="778.55" cy="1444.34" r="11.2" fill="#231f20"/>
<circle cx="834.92" cy="1466.16" r="11.2" fill="#231f20"/>
<polyline points="214.8,1627.76 271.18,1630.99 327.55,1611.6 383.93,1518.68 440.3,1468.58 496.68,1420.91 553.05,1371.62 609.42,1344.96 665.8,1263.35 722.17,1233.46 778.55,1483.13 834.92,1464.54" fill="none" stroke="#231f20" stroke-width="2.3" stroke-linejoin="round"/>
<path d="M214.8 1625.76V1629.76M271.18 1628.99V1632.99M327.55 1608.6V1614.6M383.93 1515.68V1521.68M440.3 1465.58V1471.58M496.68 1417.91V1423.91M553.05 1368.62V1374.62M609.42 1341.96V1347.96M665.8 1260.35V1266.35M722.17 1225.56V1241.36M778.55 1480.13V1486.13M834.92 1450.54V1478.54" stroke="#231f20" stroke-width="2.4" fill="none"/>
<path d="M201.6 1625.76H228M201.6 1629.76H228M257.98 1628.99H284.38M257.98 1632.99H284.38M314.35 1608.6H340.75M314.35 1614.6H340.75M370.73 1515.68H397.12M370.73 1521.68H397.12M427.1 1465.58H453.5M427.1 1471.58H453.5M483.48 1417.91H509.88M483.48 1423.91H509.88M539.85 1368.62H566.25M539.85 1374.62H566.25M596.22 1341.96H622.62M596.22 1347.96H622.62M652.6 1260.35H679M652.6 1266.35H679M708.97 1225.56H735.38M708.97 1241.36H735.38M765.35 1480.13H791.75M765.35 1486.13H791.75M821.72 1450.54H848.12M821.72 1478.54H848.12" stroke="#231f20" stroke-width="2.8" fill="none"/>
<circle cx="214.8" cy="1627.76" r="9.85" fill="#fff" stroke="#231f20" stroke-width="3.0"/>
<circle cx="271.18" cy="1630.99" r="9.85" fill="#fff" stroke="#231f20" stroke-width="3.0"/>
<circle cx="327.55" cy="1611.6" r="9.85" fill="#fff" stroke="#231f20" stroke-width="3.0"/>
<circle cx="383.93" cy="1518.68" r="9.85" fill="#fff" stroke="#231f20" stroke-width="3.0"/>
<circle cx="440.3" cy="1468.58" r="9.85" fill="#fff" stroke="#231f20" stroke-width="3.0"/>
<circle cx="496.68" cy="1420.91" r="9.85" fill="#fff" stroke="#231f20" stroke-width="3.0"/>
<circle cx="553.05" cy="1371.62" r="9.85" fill="#fff" stroke="#231f20" stroke-width="3.0"/>
<circle cx="609.42" cy="1344.96" r="9.85" fill="#fff" stroke="#231f20" stroke-width="3.0"/>
<circle cx="665.8" cy="1263.35" r="9.85" fill="#fff" stroke="#231f20" stroke-width="3.0"/>
<circle cx="722.17" cy="1233.46" r="9.85" fill="#fff" stroke="#231f20" stroke-width="3.0"/>
<circle cx="778.55" cy="1483.13" r="9.85" fill="#fff" stroke="#231f20" stroke-width="3.0"/>
<circle cx="834.92" cy="1464.54" r="9.85" fill="#fff" stroke="#231f20" stroke-width="3.0"/>
<path d="M338.4 1216.4H401.4M338.4 1250.6H401.4" stroke="#231f20" stroke-width="2.8" fill="none"/>
<circle cx="369.5" cy="1216.4" r="11.2" fill="#231f20"/>
<circle cx="369.5" cy="1250.6" r="9.85" fill="#fff" stroke="#231f20" stroke-width="3.0"/>
<text x="414.2" y="1225.8" font-size="27.5">HET</text>
<text x="414.8" y="1260.4" font-size="27.5">Control</text>
<text x="239.4" y="1215.7" font-size="34" font-weight="bold" stroke="#231f20" stroke-width="0.5">E</text>
</g>
<g>
<rect x="980.4" y="1165.8" width="678.6" height="484.3" fill="none" stroke="#231f20" stroke-width="2.9"/>
<path d="M967.6 1650.1H980.4M967.6 1569.38H980.4M967.6 1488.67H980.4M967.6 1407.95H980.4M967.6 1327.23H980.4M967.6 1246.52H980.4M967.6 1165.8H980.4M980.4 1650.1V1662.8M1093.5 1650.1V1662.8M1206.6 1650.1V1662.8M1319.7 1650.1V1662.8M1432.8 1650.1V1662.8M1545.9 1650.1V1662.8M1659 1650.1V1662.8" stroke="#231f20" stroke-width="2.9" fill="none"/>
<polyline points="980.4,1624.27 1036.95,1627.5 1093.5,1608.93 1150.05,1511.27 1206.6,1445.08 1263.15,1398.26 1319.7,1357.91 1376.25,1324.81 1432.8,1243.29 1489.35,1290.91 1545.9,1483.82 1602.45,1482.21" fill="none" stroke="#231f20" stroke-width="2.3" stroke-linejoin="round"/>
<path d="M980.4 1622.27V1626.27M1036.95 1625.5V1629.5M1093.5 1605.93V1611.93M1150.05 1508.27V1514.27M1206.6 1442.08V1448.08M1263.15 1395.26V1401.26M1319.7 1354.91V1360.91M1376.25 1321.81V1327.81M1432.8 1230.29V1256.29M1489.35 1285.91V1295.91M1545.9 1468.82V1498.82M1602.45 1477.21V1487.21" stroke="#231f20" stroke-width="2.4" fill="none"/>
<path d="M967.2 1622.27H993.6M967.2 1626.27H993.6M1023.75 1625.5H1050.15M1023.75 1629.5H1050.15M1080.3 1605.93H1106.7M1080.3 1611.93H1106.7M1136.85 1508.27H1163.25M1136.85 1514.27H1163.25M1193.4 1442.08H1219.8M1193.4 1448.08H1219.8M1249.95 1395.26H1276.35M1249.95 1401.26H1276.35M1306.5 1354.91H1332.9M1306.5 1360.91H1332.9M1363.05 1321.81H1389.45M1363.05 1327.81H1389.45M1419.6 1230.29H1446M1419.6 1256.29H1446M1476.15 1285.91H1502.55M1476.15 1295.91H1502.55M1532.7 1468.82H1559.1M1532.7 1498.82H1559.1M1589.25 1477.21H1615.65M1589.25 1487.21H1615.65" stroke="#231f20" stroke-width="2.8" fill="none"/>
<polygon points="980.4,1610.47 991.8,1632.37 969,1632.37" fill="#231f20"/>
<polygon points="1036.95,1613.7 1048.35,1635.6 1025.55,1635.6" fill="#231f20"/>
<polygon points="1093.5,1595.13 1104.9,1617.03 1082.1,1617.03" fill="#231f20"/>
<polygon points="1150.05,1497.47 1161.45,1519.37 1138.65,1519.37" fill="#231f20"/>
<polygon points="1206.6,1431.28 1218,1453.18 1195.2,1453.18" fill="#231f20"/>
<polygon points="1263.15,1384.46 1274.55,1406.36 1251.75,1406.36" fill="#231f20"/>
<polygon points="1319.7,1344.11 1331.1,1366.01 1308.3,1366.01" fill="#231f20"/>
<polygon points="1376.25,1311.01 1387.65,1332.91 1364.85,1332.91" fill="#231f20"/>
<polygon points="1432.8,1229.49 1444.2,1251.39 1421.4,1251.39" fill="#231f20"/>
<polygon points="1489.35,1277.11 1500.75,1299.01 1477.95,1299.01" fill="#231f20"/>
<polygon points="1545.9,1470.02 1557.3,1491.92 1534.5,1491.92" fill="#231f20"/>
<polygon points="1602.45,1468.41 1613.85,1490.31 1591.05,1490.31" fill="#231f20"/>
<polyline points="980.4,1624.27 1036.95,1627.5 1093.5,1608.93 1150.05,1515.3 1206.6,1466.87 1263.15,1418.44 1319.7,1370.01 1376.25,1341.76 1432.8,1260.24 1489.35,1231.18 1545.9,1478.98 1602.45,1460.42" fill="none" stroke="#231f20" stroke-width="2.3" stroke-linejoin="round"/>
<path d="M980.4 1622.27V1626.27M1036.95 1625.5V1629.5M1093.5 1605.93V1611.93M1150.05 1512.3V1518.3M1206.6 1463.87V1469.87M1263.15 1415.44V1421.44M1319.7 1367.01V1373.01M1376.25 1338.76V1344.76M1432.8 1257.24V1263.24M1489.35 1223.58V1238.78M1545.9 1470.98V1486.98M1602.45 1446.62V1474.22" stroke="#231f20" stroke-width="2.4" fill="none"/>
<path d="M967.2 1622.27H993.6M967.2 1626.27H993.6M1023.75 1625.5H1050.15M1023.75 1629.5H1050.15M1080.3 1605.93H1106.7M1080.3 1611.93H1106.7M1136.85 1512.3H1163.25M1136.85 1518.3H1163.25M1193.4 1463.87H1219.8M1193.4 1469.87H1219.8M1249.95 1415.44H1276.35M1249.95 1421.44H1276.35M1306.5 1367.01H1332.9M1306.5 1373.01H1332.9M1363.05 1338.76H1389.45M1363.05 1344.76H1389.45M1419.6 1257.24H1446M1419.6 1263.24H1446M1476.15 1223.58H1502.55M1476.15 1238.78H1502.55M1532.7 1470.98H1559.1M1532.7 1486.98H1559.1M1589.25 1446.62H1615.65M1589.25 1474.22H1615.65" stroke="#231f20" stroke-width="2.8" fill="none"/>
<circle cx="980.4" cy="1624.27" r="9.85" fill="#fff" stroke="#231f20" stroke-width="3.0"/>
<circle cx="1036.95" cy="1627.5" r="9.85" fill="#fff" stroke="#231f20" stroke-width="3.0"/>
<circle cx="1093.5" cy="1608.93" r="9.85" fill="#fff" stroke="#231f20" stroke-width="3.0"/>
<circle cx="1150.05" cy="1515.3" r="9.85" fill="#fff" stroke="#231f20" stroke-width="3.0"/>
<circle cx="1206.6" cy="1466.87" r="9.85" fill="#fff" stroke="#231f20" stroke-width="3.0"/>
<circle cx="1263.15" cy="1418.44" r="9.85" fill="#fff" stroke="#231f20" stroke-width="3.0"/>
<circle cx="1319.7" cy="1370.01" r="9.85" fill="#fff" stroke="#231f20" stroke-width="3.0"/>
<circle cx="1376.25" cy="1341.76" r="9.85" fill="#fff" stroke="#231f20" stroke-width="3.0"/>
<circle cx="1432.8" cy="1260.24" r="9.85" fill="#fff" stroke="#231f20" stroke-width="3.0"/>
<circle cx="1489.35" cy="1231.18" r="9.85" fill="#fff" stroke="#231f20" stroke-width="3.0"/>
<circle cx="1545.9" cy="1478.98" r="9.85" fill="#fff" stroke="#231f20" stroke-width="3.0"/>
<circle cx="1602.45" cy="1460.42" r="9.85" fill="#fff" stroke="#231f20" stroke-width="3.0"/>
<path d="M1100.8 1216.4H1162.7M1100.8 1252H1162.7" stroke="#231f20" stroke-width="2.8" fill="none"/>
<polygon points="1131.5,1202.6 1142.9,1224.5 1120.1,1224.5" fill="#231f20"/>
<circle cx="1131.5" cy="1252" r="9.85" fill="#fff" stroke="#231f20" stroke-width="3.0"/>
<text x="1175" y="1225.3" font-size="27.5">HMP</text>
<text x="1175.6" y="1260.4" font-size="27.5">Control</text>
<text x="1008.3" y="1215.7" font-size="34" font-weight="bold" stroke="#231f20" stroke-width="0.5">F</text>
</g>
<g>
<rect x="211.4" y="1712.8" width="678.4" height="490.9" fill="none" stroke="#231f20" stroke-width="2.9"/>
<path d="M198.9 2203.7H211.4M198.9 2121.88H211.4M198.9 2040.07H211.4M198.9 1958.25H211.4M198.9 1876.43H211.4M198.9 1794.62H211.4M198.9 1712.8H211.4M211.4 2203.7V2217.7M324.47 2203.7V2217.7M437.53 2203.7V2217.7M550.6 2203.7V2217.7M663.67 2203.7V2217.7M776.73 2203.7V2217.7M889.8 2203.7V2217.7" stroke="#231f20" stroke-width="2.9" fill="none"/>
<text transform="translate(178.6 2216.5) scale(0.985 1)" font-size="43" text-anchor="end">0</text>
<text transform="translate(178.6 2134.68) scale(0.985 1)" font-size="43" text-anchor="end">100</text>
<text transform="translate(178.6 2052.87) scale(0.985 1)" font-size="43" text-anchor="end">200</text>
<text transform="translate(178.6 1971.05) scale(0.985 1)" font-size="43" text-anchor="end">300</text>
<text transform="translate(178.6 1889.23) scale(0.985 1)" font-size="43" text-anchor="end">400</text>
<text transform="translate(178.6 1807.42) scale(0.985 1)" font-size="43" text-anchor="end">500</text>
<text transform="translate(178.6 1725.6) scale(0.985 1)" font-size="43" text-anchor="end">600</text>
<text transform="translate(211.4 2272.1) scale(0.985 1)" font-size="43" text-anchor="middle">0</text>
<text transform="translate(324.47 2272.1) scale(0.985 1)" font-size="43" text-anchor="middle">2</text>
<text transform="translate(437.53 2272.1) scale(0.985 1)" font-size="43" text-anchor="middle">4</text>
<text transform="translate(550.6 2272.1) scale(0.985 1)" font-size="43" text-anchor="middle">6</text>
<text transform="translate(663.67 2272.1) scale(0.985 1)" font-size="43" text-anchor="middle">8</text>
<text transform="translate(776.73 2272.1) scale(0.985 1)" font-size="43" text-anchor="middle">10</text>
<text transform="translate(889.8 2272.1) scale(0.985 1)" font-size="43" text-anchor="middle">12</text>
<polyline points="211.4,2179.97 267.93,2179.97 324.47,2157.06 381,2048.25 437.53,1995.07 494.07,1945.98 550.6,1897.71 607.13,1873.16 663.67,1780.71 720.2,1827.34 776.73,2024.52 833.27,2020.43" fill="none" stroke="#231f20" stroke-width="2.3" stroke-linejoin="round"/>
<path d="M211.4 2177.97V2181.97M267.93 2177.97V2181.97M324.47 2154.06V2160.06M381 2045.25V2051.25M437.53 1992.07V1998.07M494.07 1941.98V1949.98M550.6 1893.71V1901.71M607.13 1870.16V1876.16M663.67 1773.71V1787.71M720.2 1793.34V1861.34M776.73 2004.92V2044.12M833.27 2004.93V2035.93" stroke="#231f20" stroke-width="2.4" fill="none"/>
<path d="M198.2 2177.97H224.6M198.2 2181.97H224.6M254.73 2177.97H281.13M254.73 2181.97H281.13M311.27 2154.06H337.67M311.27 2160.06H337.67M367.8 2045.25H394.2M367.8 2051.25H394.2M424.33 1992.07H450.73M424.33 1998.07H450.73M480.87 1941.98H507.27M480.87 1949.98H507.27M537.4 1893.71H563.8M537.4 1901.71H563.8M593.93 1870.16H620.33M593.93 1876.16H620.33M650.47 1773.71H676.87M650.47 1787.71H676.87M707 1793.34H733.4M707 1861.34H733.4M763.53 2004.92H789.93M763.53 2044.12H789.93M820.07 2004.93H846.47M820.07 2035.93H846.47" stroke="#231f20" stroke-width="2.8" fill="none"/>
<rect x="200.9" y="2169.47" width="21" height="21" fill="#231f20"/>
<rect x="257.43" y="2169.47" width="21" height="21" fill="#231f20"/>
<rect x="313.97" y="2146.56" width="21" height="21" fill="#231f20"/>
<rect x="370.5" y="2037.75" width="21" height="21" fill="#231f20"/>
<rect x="427.03" y="1984.57" width="21" height="21" fill="#231f20"/>
<rect x="483.57" y="1935.48" width="21" height="21" fill="#231f20"/>
<rect x="540.1" y="1887.21" width="21" height="21" fill="#231f20"/>
<rect x="596.63" y="1862.66" width="21" height="21" fill="#231f20"/>
<rect x="653.17" y="1770.21" width="21" height="21" fill="#231f20"/>
<rect x="709.7" y="1816.84" width="21" height="21" fill="#231f20"/>
<rect x="766.23" y="2014.02" width="21" height="21" fill="#231f20"/>
<rect x="822.77" y="2009.93" width="21" height="21" fill="#231f20"/>
<polyline points="211.4,2178.34 267.93,2181.61 324.47,2162.79 381,2067.07 437.53,2018.79 494.07,1969.7 550.6,1919.8 607.13,1891.98 663.67,1808.53 720.2,1779.89 776.73,2031.88 833.27,2013.07" fill="none" stroke="#231f20" stroke-width="2.3" stroke-linejoin="round"/>
<path d="M211.4 2176.34V2180.34M267.93 2179.61V2183.61M324.47 2159.79V2165.79M381 2064.07V2070.07M437.53 2015.79V2021.79M494.07 1966.7V1972.7M550.6 1916.8V1922.8M607.13 1888.98V1894.98M663.67 1805.53V1811.53M720.2 1772.89V1786.89M776.73 2027.38V2036.38M833.27 1998.27V2027.87" stroke="#231f20" stroke-width="2.4" fill="none"/>
<path d="M198.2 2176.34H224.6M198.2 2180.34H224.6M254.73 2179.61H281.13M254.73 2183.61H281.13M311.27 2159.79H337.67M311.27 2165.79H337.67M367.8 2064.07H394.2M367.8 2070.07H394.2M424.33 2015.79H450.73M424.33 2021.79H450.73M480.87 1966.7H507.27M480.87 1972.7H507.27M537.4 1916.8H563.8M537.4 1922.8H563.8M593.93 1888.98H620.33M593.93 1894.98H620.33M650.47 1805.53H676.87M650.47 1811.53H676.87M707 1772.89H733.4M707 1786.89H733.4M763.53 2027.38H789.93M763.53 2036.38H789.93M820.07 1998.27H846.47M820.07 2027.87H846.47" stroke="#231f20" stroke-width="2.8" fill="none"/>
<circle cx="211.4" cy="2178.34" r="9.85" fill="#fff" stroke="#231f20" stroke-width="3.0"/>
<circle cx="267.93" cy="2181.61" r="9.85" fill="#fff" stroke="#231f20" stroke-width="3.0"/>
<circle cx="324.47" cy="2162.79" r="9.85" fill="#fff" stroke="#231f20" stroke-width="3.0"/>
<circle cx="381" cy="2067.07" r="9.85" fill="#fff" stroke="#231f20" stroke-width="3.0"/>
<circle cx="437.53" cy="2018.79" r="9.85" fill="#fff" stroke="#231f20" stroke-width="3.0"/>
<circle cx="494.07" cy="1969.7" r="9.85" fill="#fff" stroke="#231f20" stroke-width="3.0"/>
<circle cx="550.6" cy="1919.8" r="9.85" fill="#fff" stroke="#231f20" stroke-width="3.0"/>
<circle cx="607.13" cy="1891.98" r="9.85" fill="#fff" stroke="#231f20" stroke-width="3.0"/>
<circle cx="663.67" cy="1808.53" r="9.85" fill="#fff" stroke="#231f20" stroke-width="3.0"/>
<circle cx="720.2" cy="1779.89" r="9.85" fill="#fff" stroke="#231f20" stroke-width="3.0"/>
<circle cx="776.73" cy="2031.88" r="9.85" fill="#fff" stroke="#231f20" stroke-width="3.0"/>
<circle cx="833.27" cy="2013.07" r="9.85" fill="#fff" stroke="#231f20" stroke-width="3.0"/>
<path d="M329.8 1768.6H393.4M329.8 1804.4H393.4" stroke="#231f20" stroke-width="2.8" fill="none"/>
<rect x="351.4" y="1758.1" width="21" height="21" fill="#231f20"/>
<circle cx="361.9" cy="1804.4" r="9.85" fill="#fff" stroke="#231f20" stroke-width="3.0"/>
<text x="405.8" y="1777.8" font-size="27.5">HET &amp; HMP</text>
<text x="406.4" y="1813.6" font-size="27.5">Control</text>
<text x="239.2" y="1761.9" font-size="34" font-weight="bold" stroke="#231f20" stroke-width="0.5">G</text>
</g>
<g>
<rect x="980" y="1717.6" width="679" height="485.6" fill="none" stroke="#231f20" stroke-width="2.9"/>
<path d="M966.6 2203.2H980M966.6 2122.27H980M966.6 2041.33H980M966.6 1960.4H980M966.6 1879.47H980M966.6 1798.53H980M966.6 1717.6H980M980 2203.2V2214.5M1093.17 2203.2V2214.5M1206.33 2203.2V2214.5M1319.5 2203.2V2214.5M1432.67 2203.2V2214.5M1545.83 2203.2V2214.5M1659 2203.2V2214.5" stroke="#231f20" stroke-width="2.9" fill="none"/>
<text transform="translate(980 2270.3) scale(0.985 1)" font-size="43" text-anchor="middle">0</text>
<text transform="translate(1093.17 2270.3) scale(0.985 1)" font-size="43" text-anchor="middle">2</text>
<text transform="translate(1206.33 2270.3) scale(0.985 1)" font-size="43" text-anchor="middle">4</text>
<text transform="translate(1319.5 2270.3) scale(0.985 1)" font-size="43" text-anchor="middle">6</text>
<text transform="translate(1432.67 2270.3) scale(0.985 1)" font-size="43" text-anchor="middle">8</text>
<text transform="translate(1545.83 2270.3) scale(0.985 1)" font-size="43" text-anchor="middle">10</text>
<text transform="translate(1659 2270.3) scale(0.985 1)" font-size="43" text-anchor="middle">12</text>
<polyline points="980,2176.49 1036.58,2178.92 1093.17,2158.69 1149.75,2051.85 1206.33,2002.49 1262.92,1957.16 1319.5,1902.94 1376.08,1884.32 1432.67,1795.3 1489.25,1810.67 1545.83,2047.81 1602.42,2020.29" fill="none" stroke="#231f20" stroke-width="2.3" stroke-linejoin="round"/>
<path d="M980 2174.49V2178.49M1036.58 2176.92V2180.92M1093.17 2155.69V2161.69M1149.75 2048.85V2054.85M1206.33 1999.49V2005.49M1262.92 1954.16V1960.16M1319.5 1899.94V1905.94M1376.08 1881.32V1887.32M1432.67 1791.3V1799.3M1489.25 1806.67V1814.67M1545.83 2031.21V2064.41M1602.42 2012.99V2027.59" stroke="#231f20" stroke-width="2.4" fill="none"/>
<path d="M966.8 2174.49H993.2M966.8 2178.49H993.2M1023.38 2176.92H1049.78M1023.38 2180.92H1049.78M1079.97 2155.69H1106.37M1079.97 2161.69H1106.37M1136.55 2048.85H1162.95M1136.55 2054.85H1162.95M1193.13 1999.49H1219.53M1193.13 2005.49H1219.53M1249.72 1954.16H1276.12M1249.72 1960.16H1276.12M1306.3 1899.94H1332.7M1306.3 1905.94H1332.7M1362.88 1881.32H1389.28M1362.88 1887.32H1389.28M1419.47 1791.3H1445.87M1419.47 1799.3H1445.87M1476.05 1806.67H1502.45M1476.05 1814.67H1502.45M1532.63 2031.21H1559.03M1532.63 2064.41H1559.03M1589.22 2012.99H1615.62M1589.22 2027.59H1615.62" stroke="#231f20" stroke-width="2.8" fill="none"/>
<polygon points="980,2162.49 993.1,2176.49 980,2190.49 966.9,2176.49" fill="#231f20"/>
<polygon points="1036.58,2164.92 1049.68,2178.92 1036.58,2192.92 1023.48,2178.92" fill="#231f20"/>
<polygon points="1093.17,2144.69 1106.27,2158.69 1093.17,2172.69 1080.07,2158.69" fill="#231f20"/>
<polygon points="1149.75,2037.85 1162.85,2051.85 1149.75,2065.85 1136.65,2051.85" fill="#231f20"/>
<polygon points="1206.33,1988.49 1219.43,2002.49 1206.33,2016.49 1193.23,2002.49" fill="#231f20"/>
<polygon points="1262.92,1943.16 1276.02,1957.16 1262.92,1971.16 1249.82,1957.16" fill="#231f20"/>
<polygon points="1319.5,1888.94 1332.6,1902.94 1319.5,1916.94 1306.4,1902.94" fill="#231f20"/>
<polygon points="1376.08,1870.32 1389.18,1884.32 1376.08,1898.32 1362.98,1884.32" fill="#231f20"/>
<polygon points="1432.67,1781.3 1445.77,1795.3 1432.67,1809.3 1419.57,1795.3" fill="#231f20"/>
<polygon points="1489.25,1796.67 1502.35,1810.67 1489.25,1824.67 1476.15,1810.67" fill="#231f20"/>
<polygon points="1545.83,2033.81 1558.93,2047.81 1545.83,2061.81 1532.73,2047.81" fill="#231f20"/>
<polygon points="1602.42,2006.29 1615.52,2020.29 1602.42,2034.29 1589.32,2020.29" fill="#231f20"/>
<polyline points="980,2176.49 1036.58,2178.11 1093.17,2160.31 1149.75,2066.42 1206.33,2018.67 1262.92,1970.92 1319.5,1921.55 1376.08,1892.42 1432.67,1810.67 1489.25,1782.35 1545.83,2030.81 1602.42,2012.2" fill="none" stroke="#231f20" stroke-width="2.3" stroke-linejoin="round"/>
<path d="M980 2174.49V2178.49M1036.58 2176.11V2180.11M1093.17 2157.31V2163.31M1149.75 2063.42V2069.42M1206.33 2015.67V2021.67M1262.92 1967.92V1973.92M1319.5 1918.55V1924.55M1376.08 1889.42V1895.42M1432.67 1807.67V1813.67M1489.25 1774.35V1790.35M1545.83 2026.81V2034.81M1602.42 1998V2026.4" stroke="#231f20" stroke-width="2.4" fill="none"/>
<path d="M966.8 2174.49H993.2M966.8 2178.49H993.2M1023.38 2176.11H1049.78M1023.38 2180.11H1049.78M1079.97 2157.31H1106.37M1079.97 2163.31H1106.37M1136.55 2063.42H1162.95M1136.55 2069.42H1162.95M1193.13 2015.67H1219.53M1193.13 2021.67H1219.53M1249.72 1967.92H1276.12M1249.72 1973.92H1276.12M1306.3 1918.55H1332.7M1306.3 1924.55H1332.7M1362.88 1889.42H1389.28M1362.88 1895.42H1389.28M1419.47 1807.67H1445.87M1419.47 1813.67H1445.87M1476.05 1774.35H1502.45M1476.05 1790.35H1502.45M1532.63 2026.81H1559.03M1532.63 2034.81H1559.03M1589.22 1998H1615.62M1589.22 2026.4H1615.62" stroke="#231f20" stroke-width="2.8" fill="none"/>
<circle cx="980" cy="2176.49" r="9.85" fill="#fff" stroke="#231f20" stroke-width="3.0"/>
<circle cx="1036.58" cy="2178.11" r="9.85" fill="#fff" stroke="#231f20" stroke-width="3.0"/>
<circle cx="1093.17" cy="2160.31" r="9.85" fill="#fff" stroke="#231f20" stroke-width="3.0"/>
<circle cx="1149.75" cy="2066.42" r="9.85" fill="#fff" stroke="#231f20" stroke-width="3.0"/>
<circle cx="1206.33" cy="2018.67" r="9.85" fill="#fff" stroke="#231f20" stroke-width="3.0"/>
<circle cx="1262.92" cy="1970.92" r="9.85" fill="#fff" stroke="#231f20" stroke-width="3.0"/>
<circle cx="1319.5" cy="1921.55" r="9.85" fill="#fff" stroke="#231f20" stroke-width="3.0"/>
<circle cx="1376.08" cy="1892.42" r="9.85" fill="#fff" stroke="#231f20" stroke-width="3.0"/>
<circle cx="1432.67" cy="1810.67" r="9.85" fill="#fff" stroke="#231f20" stroke-width="3.0"/>
<circle cx="1489.25" cy="1782.35" r="9.85" fill="#fff" stroke="#231f20" stroke-width="3.0"/>
<circle cx="1545.83" cy="2030.81" r="9.85" fill="#fff" stroke="#231f20" stroke-width="3.0"/>
<circle cx="1602.42" cy="2012.2" r="9.85" fill="#fff" stroke="#231f20" stroke-width="3.0"/>
<path d="M1105.5 1765H1168.8M1105.5 1800.8H1168.8" stroke="#231f20" stroke-width="2.8" fill="none"/>
<polygon points="1136.5,1751 1149.6,1765 1136.5,1779 1123.4,1765" fill="#231f20"/>
<circle cx="1136.5" cy="1800.8" r="9.85" fill="#fff" stroke="#231f20" stroke-width="3.0"/>
<text x="1182" y="1774.7" font-size="27.5">B1</text>
<text x="1182.6" y="1810.4" font-size="27.5">Control</text>
<text x="1005.4" y="1762.9" font-size="34" font-weight="bold" stroke="#231f20" stroke-width="0.5">H</text>
</g>
<text transform="translate(81.5 787.2) rotate(-90)" font-size="61.3">Chl <tspan font-style="italic">a</tspan> (Fluorescence)</text>
<text transform="translate(51.7 1943.5) rotate(-90)" font-size="61.3">Chl <tspan font-style="italic">a</tspan> (Fluorescence)</text>
<text x="767.2" y="2356" font-size="62">Time (days)</text>
</svg>
</body></html>
